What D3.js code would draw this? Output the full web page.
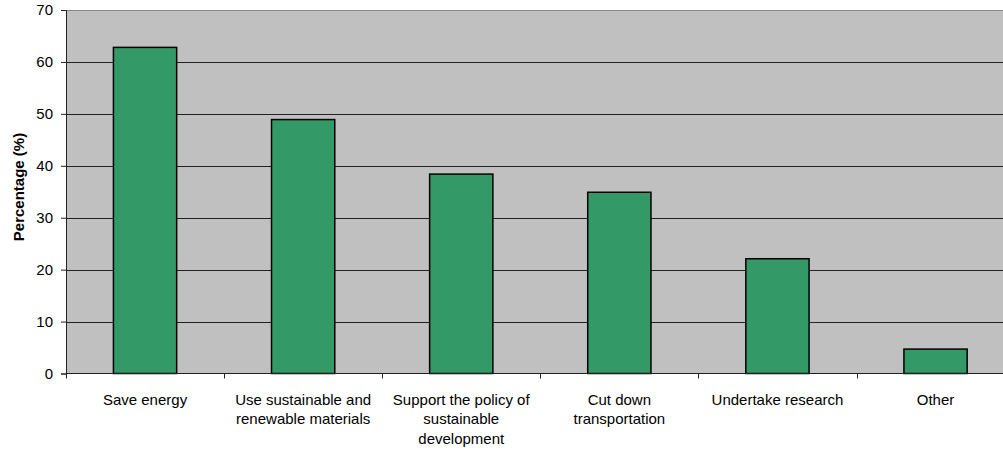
<!DOCTYPE html>
<html>
<head>
<meta charset="utf-8">
<script src="https://cdn.jsdelivr.net/npm/d3@7"></script>
<style>
  html, body { margin: 0; padding: 0; background: #fff; }
  svg { display: block; font-family: "Liberation Sans", Arial, sans-serif; }
</style>
</head>
<body>
<svg id="chart" width="1003" height="451"></svg>
<script>
// Survey answers: share of respondents (%) per action
const categories = [
  ["Save energy"],
  ["Use sustainable and", "renewable materials"],
  ["Support the policy of", "sustainable", "development"],
  ["Cut down", "transportation"],
  ["Undertake research"],
  ["Other"]
];
const values = [62.8, 48.9, 38.4, 34.9, 22.1, 4.7];
const yTicks = [0, 10, 20, 30, 40, 50, 60, 70];
const yTitle = "Percentage (%)";

const svg = d3.select("#chart");
const plot = { left: 66, top: 10, width: 948.6, height: 363.5 };
const fontSize = "15px";

const x = d3.scaleBand()
  .domain(d3.range(categories.length))
  .range([plot.left, plot.left + plot.width])
  .paddingInner(0.6)
  .paddingOuter(0.3);

const y = d3.scaleLinear()
  .domain([0, 70])
  .range([plot.top + plot.height, plot.top]);

// Plot background
svg.append("rect")
  .attr("x", plot.left).attr("y", plot.top)
  .attr("width", plot.width).attr("height", plot.height)
  .attr("fill", "#c0c0c0");

// Horizontal gridlines
svg.append("g")
  .selectAll("line")
  .data(yTicks.filter(t => t > 0 && t < 70))
  .join("line")
  .attr("x1", plot.left).attr("x2", plot.left + plot.width)
  .attr("y1", d => Math.round(y(d)) + 0.5).attr("y2", d => Math.round(y(d)) + 0.5)
  .attr("stroke", "#222").attr("stroke-width", 1);

// Top border
svg.append("line")
  .attr("x1", plot.left).attr("x2", plot.left + plot.width)
  .attr("y1", plot.top + 0.5).attr("y2", plot.top + 0.5)
  .attr("stroke", "#888").attr("stroke-width", 1);

// Bars
svg.append("g")
  .selectAll("rect")
  .data(values)
  .join("rect")
  .attr("x", (d, i) => x(i))
  .attr("y", d => y(d))
  .attr("width", x.bandwidth())
  .attr("height", d => y(0) - y(d))
  .attr("fill", "#339966")
  .attr("stroke", "#000")
  .attr("stroke-width", 1.5);

// Y axis
const yAxis = svg.append("g")
  .attr("transform", `translate(${plot.left},0)`)
  .call(d3.axisLeft(y).tickValues(yTicks).tickSize(5).tickPadding(8).tickFormat(d3.format("d")));
yAxis.select(".domain").attr("stroke", "#222");
yAxis.selectAll(".tick line").attr("stroke", "#222");
yAxis.selectAll("text")
  .attr("font-size", fontSize)
  .attr("fill", "#000")
  .style("font-family", "\"Liberation Sans\", Arial, sans-serif");

// X axis: baseline and ticks at category boundaries
const step = x.step();
const boundaries = d3.range(categories.length + 1).map(i => plot.left + i * step);
svg.append("line")
  .attr("x1", plot.left).attr("x2", plot.left + plot.width)
  .attr("y1", y(0)).attr("y2", y(0))
  .attr("stroke", "#222").attr("stroke-width", 1);
svg.append("g")
  .selectAll("line")
  .data(boundaries)
  .join("line")
  .attr("x1", d => Math.round(d) + 0.5).attr("x2", d => Math.round(d) + 0.5)
  .attr("y1", y(0)).attr("y2", y(0) + 5)
  .attr("stroke", "#222");

// Category labels
const labels = svg.append("g")
  .selectAll("text")
  .data(categories)
  .join("text")
  .attr("x", (d, i) => x(i) + x.bandwidth() / 2)
  .attr("y", y(0) + 31)
  .attr("text-anchor", "middle")
  .attr("font-size", fontSize)
  .attr("fill", "#000");
labels.selectAll("tspan")
  .data(d => d)
  .join("tspan")
  .attr("x", function () { return d3.select(this.parentNode).attr("x"); })
  .attr("dy", (d, i) => i === 0 ? 0 : 19.7)
  .text(d => d);

// Y axis title
svg.append("text")
  .attr("transform", `translate(24,187) rotate(-90)`)
  .attr("text-anchor", "middle")
  .attr("font-size", fontSize)
  .attr("font-weight", "bold")
  .attr("fill", "#000")
  .text(yTitle);
</script>
</body>
</html>
